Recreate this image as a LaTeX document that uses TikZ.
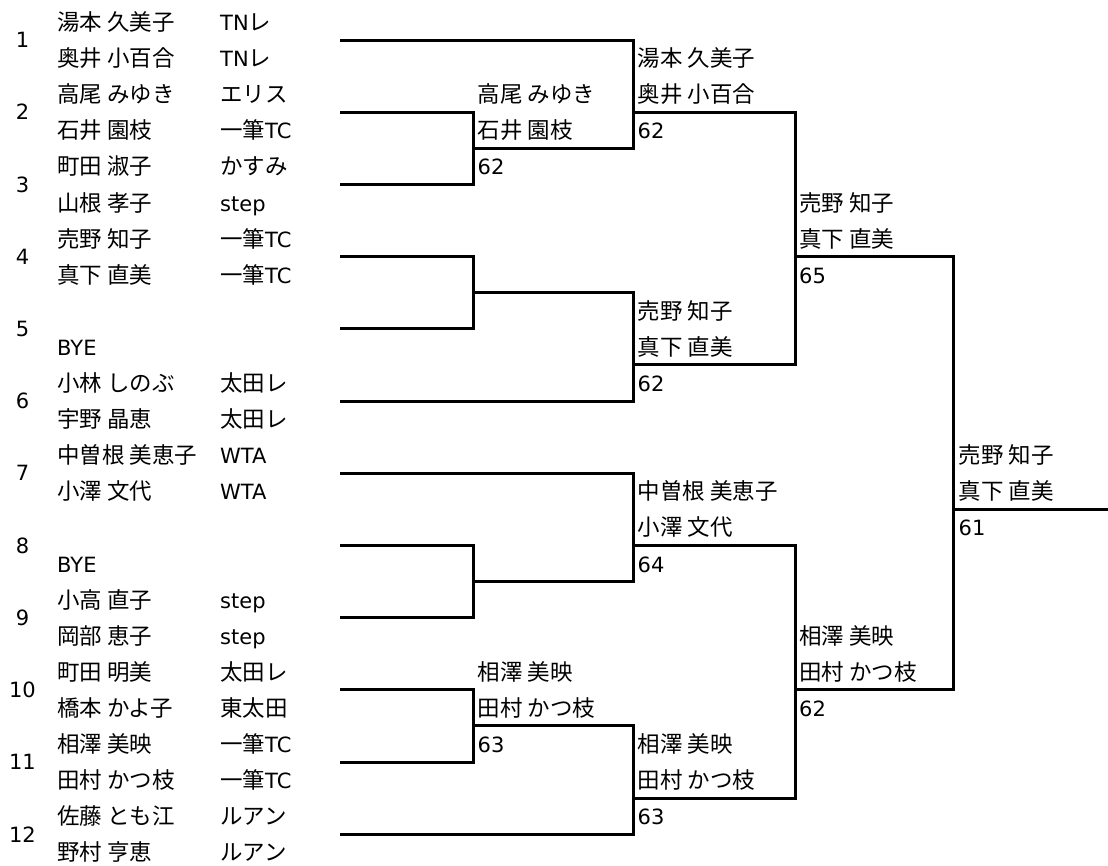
\documentclass[tikz,border=0pt]{standalone}
\usepackage{fontspec}
\usepackage{tikz}
\setmainfont{DejaVu Sans}
\newfontfamily\jpfont{Noto Sans CJK JP}[Scale=1.07]
\tikzset{bracket/.style = {line width=3pt}}
\tikzset{seednum/.style = {inner sep=0, font=\fontsize{21}{25}\selectfont}}
\tikzset{entry/.style = {anchor=base west, inner sep=0, font=\fontsize{21}{25}\selectfont}}
\tikzset{player/.style = {entry, font=\fontsize{21}{25}\selectfont\jpfont}}

\begin{document}
\begin{tikzpicture}[x=1pt, y=-1pt]
    \useasboundingbox (0, 0) rectangle (1108, 865);

    \node [seednum] (seed1) at (22.5, 40) {1};
    \node [seednum] (seed2) at (22.5, 112.2) {2};
    \node [seednum] (seed3) at (22.5, 184.4) {3};
    \node [seednum] (seed4) at (22.5, 256.6) {4};
    \node [seednum] (seed5) at (22.5, 328.8) {5};
    \node [seednum] (seed6) at (22.5, 401) {6};
    \node [seednum] (seed7) at (22.5, 473.2) {7};
    \node [seednum] (seed8) at (22.5, 545.4) {8};
    \node [seednum] (seed9) at (22.5, 617.6) {9};
    \node [seednum] (seed10) at (22.5, 689.8) {10};
    \node [seednum] (seed11) at (22.5, 762) {11};
    \node [seednum] (seed12) at (22.5, 834.2) {12};

    \node [player] (p1a) at (57, 30.5) {湯本 久美子};
    \node [player] (p1b) at (57, 66.6) {奥井 小百合};
    \node [player] (p2a) at (57, 102.7) {高尾 みゆき};
    \node [player] (p2b) at (57, 138.8) {石井 園枝};
    \node [player] (p3a) at (57, 174.9) {町田 淑子};
    \node [player] (p3b) at (57, 211) {山根 孝子};
    \node [player] (p4a) at (57, 247.1) {売野 知子};
    \node [player] (p4b) at (57, 283.2) {真下 直美};
    \node [entry] (p5b) at (57, 355.4) {BYE};
    \node [player] (p6a) at (57, 391.5) {小林 しのぶ};
    \node [player] (p6b) at (57, 427.6) {宇野 晶恵};
    \node [player] (p7a) at (57, 463.7) {中曽根 美恵子};
    \node [player] (p7b) at (57, 499.8) {小澤 文代};
    \node [entry] (p8b) at (57, 572) {BYE};
    \node [player] (p9a) at (57, 608.1) {小高 直子};
    \node [player] (p9b) at (57, 644.2) {岡部 恵子};
    \node [player] (p10a) at (57, 680.3) {町田 明美};
    \node [player] (p10b) at (57, 716.4) {橋本 かよ子};
    \node [player] (p11a) at (57, 752.5) {相澤 美映};
    \node [player] (p11b) at (57, 788.6) {田村 かつ枝};
    \node [player] (p12a) at (57, 824.7) {佐藤 とも江};
    \node [player] (p12b) at (57, 860.8) {野村 亨恵};

    \node [entry] (club1a) at (220, 30.5) {TN{\jpfont レ}};
    \node [entry] (club1b) at (220, 66.6) {TN{\jpfont レ}};
    \node [player] (club2a) at (220, 102.7) {エリス};
    \node [entry] (club2b) at (220, 138.8) {{\jpfont 一筆}TC};
    \node [player] (club3a) at (220, 174.9) {かすみ};
    \node [entry] (club3b) at (220, 211) {step};
    \node [entry] (club4a) at (220, 247.1) {{\jpfont 一筆}TC};
    \node [entry] (club4b) at (220, 283.2) {{\jpfont 一筆}TC};
    \node [player] (club6a) at (220, 391.5) {太田レ};
    \node [player] (club6b) at (220, 427.6) {太田レ};
    \node [entry] (club7a) at (220, 463.7) {WTA};
    \node [entry] (club7b) at (220, 499.8) {WTA};
    \node [entry] (club9a) at (220, 608.1) {step};
    \node [entry] (club9b) at (220, 644.2) {step};
    \node [player] (club10a) at (220, 680.3) {太田レ};
    \node [player] (club10b) at (220, 716.4) {東太田};
    \node [entry] (club11a) at (220, 752.5) {{\jpfont 一筆}TC};
    \node [entry] (club11b) at (220, 788.6) {{\jpfont 一筆}TC};
    \node [player] (club12a) at (220, 824.7) {ルアン};
    \node [player] (club12b) at (220, 860.8) {ルアン};

    \node [player] (w21a) at (477.5, 102.7) {高尾 みゆき};
    \node [player] (w21b) at (477.5, 138.8) {石井 園枝};
    \node [entry] (sc21) at (477.5, 174.9) {62};
    \node [player] (w22a) at (477.5, 680.3) {相澤 美映};
    \node [player] (w22b) at (477.5, 716.4) {田村 かつ枝};
    \node [entry] (sc22) at (477.5, 752.5) {63};

    \node [player] (w31a) at (637.5, 66.6) {湯本 久美子};
    \node [player] (w31b) at (637.5, 102.7) {奥井 小百合};
    \node [entry] (sc31) at (637.5, 138.8) {62};
    \node [player] (w32a) at (637.5, 319.3) {売野 知子};
    \node [player] (w32b) at (637.5, 355.4) {真下 直美};
    \node [entry] (sc32) at (637.5, 391.5) {62};
    \node [player] (w33a) at (637.5, 499.8) {中曽根 美恵子};
    \node [player] (w33b) at (637.5, 535.9) {小澤 文代};
    \node [entry] (sc33) at (637.5, 572) {64};
    \node [player] (w34a) at (637.5, 752.5) {相澤 美映};
    \node [player] (w34b) at (637.5, 788.6) {田村 かつ枝};
    \node [entry] (sc34) at (637.5, 824.7) {63};

    \node [player] (w41a) at (799, 211) {売野 知子};
    \node [player] (w41b) at (799, 247.1) {真下 直美};
    \node [entry] (sc41) at (799, 283.2) {65};
    \node [player] (w42a) at (799, 644.2) {相澤 美映};
    \node [player] (w42b) at (799, 680.3) {田村 かつ枝};
    \node [entry] (sc42) at (799, 716.4) {62};

    \node [player] (w51a) at (958.5, 463.7) {売野 知子};
    \node [player] (w51b) at (958.5, 499.8) {真下 直美};
    \node [entry] (sc51) at (958.5, 535.9) {61};

    \coordinate (e1) at (340, 40);
    \coordinate (e2) at (340, 112.2);
    \coordinate (e3) at (340, 184.4);
    \coordinate (e4) at (340, 256.6);
    \coordinate (e5) at (340, 328.8);
    \coordinate (e6) at (340, 401);
    \coordinate (e7) at (340, 473.2);
    \coordinate (e8) at (340, 545.4);
    \coordinate (e9) at (340, 617.6);
    \coordinate (e10) at (340, 689.8);
    \coordinate (e11) at (340, 762);
    \coordinate (e12) at (340, 834.2);

    \coordinate (j23) at (473, 148.3);
    \coordinate (j45) at (473, 292.7);
    \coordinate (j89) at (473, 581.5);
    \coordinate (j1011) at (473, 725.9);
    \coordinate (k1) at (633, 112.2);
    \coordinate (k2) at (633, 364.9);
    \coordinate (k3) at (633, 545.4);
    \coordinate (k4) at (633, 798.1);
    \coordinate (l1) at (795, 256.6);
    \coordinate (l2) at (795, 689.8);
    \coordinate (fin) at (953, 509.3);
    \coordinate (champ) at (1108, 509.3);

    \draw [bracket] (e2) -| (j23);
    \draw [bracket] (e3) -| (j23);
    \draw [bracket] (e4) -| (j45);
    \draw [bracket] (e5) -| (j45);
    \draw [bracket] (e8) -| (j89);
    \draw [bracket] (e9) -| (j89);
    \draw [bracket] (e10) -| (j1011);
    \draw [bracket] (e11) -| (j1011);

    \draw [bracket] (e1) -| (k1);
    \draw [bracket] (j23) -| (k1);
    \draw [bracket] (j45) -| (k2);
    \draw [bracket] (e6) -| (k2);
    \draw [bracket] (e7) -| (k3);
    \draw [bracket] (j89) -| (k3);
    \draw [bracket] (j1011) -| (k4);
    \draw [bracket] (e12) -| (k4);

    \draw [bracket] (k1) -| (l1);
    \draw [bracket] (k2) -| (l1);
    \draw [bracket] (k3) -| (l2);
    \draw [bracket] (k4) -| (l2);

    \draw [bracket] (l1) -| (fin);
    \draw [bracket] (l2) -| (fin);
    \draw [bracket] (fin) -- (champ);
\end{tikzpicture}
\end{document}
